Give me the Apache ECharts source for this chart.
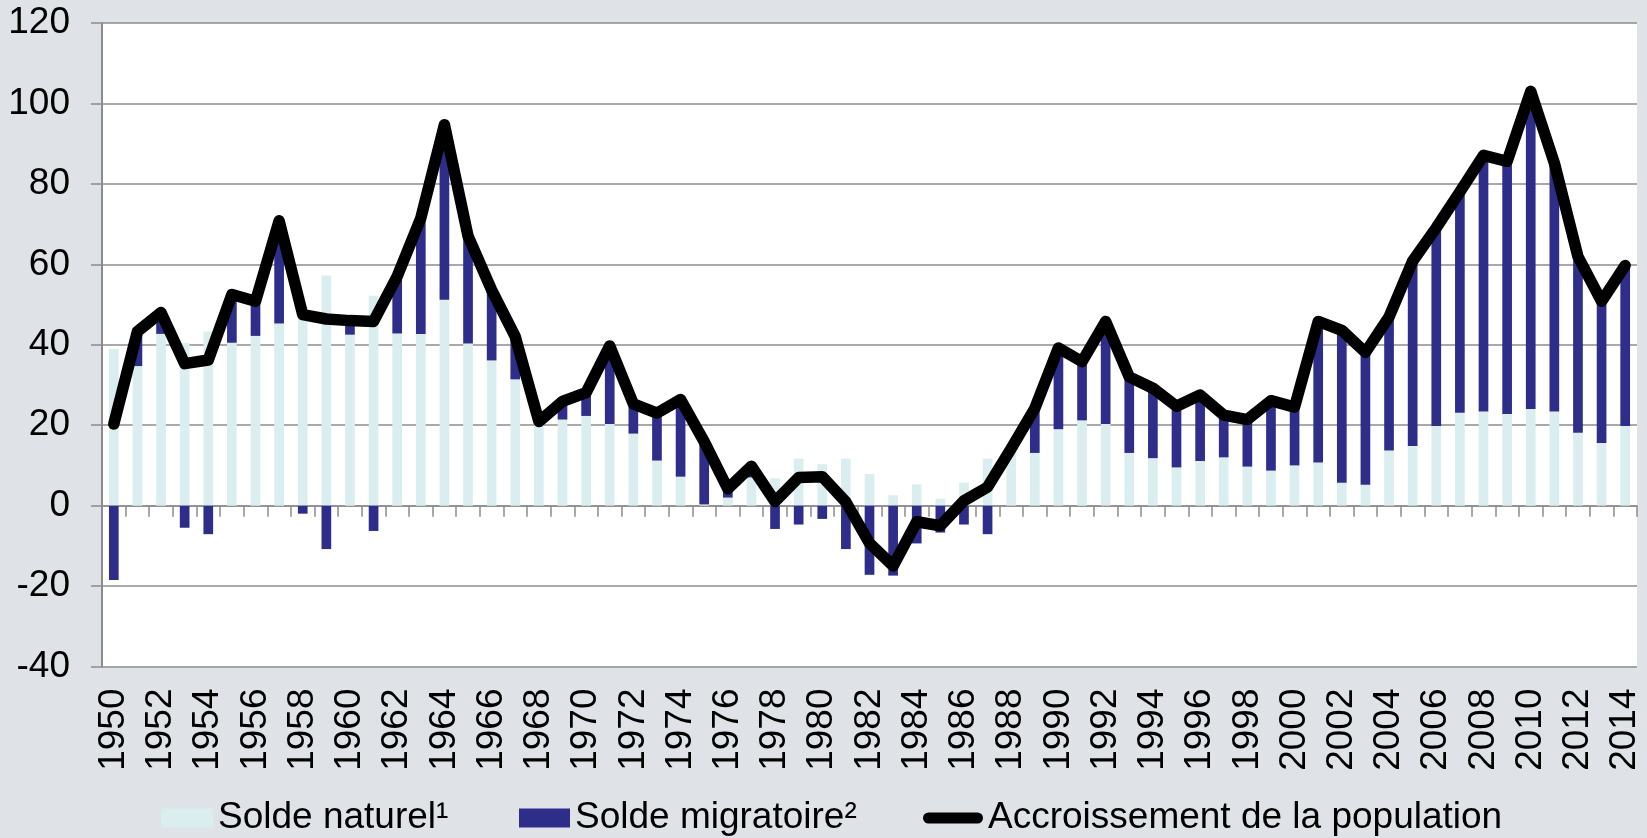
<!DOCTYPE html>
<html>
<head>
<meta charset="UTF-8">
<title>Accroissement de la population</title>
<script src="https://cdn.jsdelivr.net/npm/echarts@6/dist/echarts.min.js"></script>
<style>
  html, body { margin: 0; padding: 0; background: #dfe3e8; }
  #chart { width: 1647px; height: 838px; }
</style>
</head>
<body>
<div id="chart"></div>
<script>
// années 1950 - 2014
var years = [];
for (var y = 1950; y <= 2014; y++) years.push(String(y));

// solde naturel (milliers)
var naturel = [
  39.0, 34.7, 42.7, 40.5, 43.3, 40.5, 42.2, 45.3, 49.5, 57.2,
  42.5, 52.2, 42.8, 42.7, 51.2, 40.3, 36.1, 31.4, 20.3, 21.4,
  22.3, 20.3, 17.9, 11.2, 7.2, 0.3, 2.0, 7.0, 6.8, 11.7,
  10.3, 11.7, 7.9, 2.6, 5.3, 1.7, 5.7, 11.7, 13.7, 13.1,
  19.0, 21.2, 20.3, 13.1, 11.8, 9.5, 11.1, 12.0, 9.7, 8.7,
  10.0, 10.7, 5.7, 5.2, 13.7, 14.8, 19.8, 23.1, 23.4, 22.8,
  24.0, 23.4, 18.1, 15.6, 19.8
];

// solde migratoire
var migratoire = [
  -18.5, 8.6, 5.3, -5.5, -7.1, 12.0, 8.6, 25.5, -2.0, -10.8,
  3.5, -6.3, 14.2, 28.8, 43.5, 26.7, 17.5, 10.6, 0.6, 4.5,
  5.8, 19.4, 7.4, 11.8, 19.2, 15.6, 2.2, 2.8, -5.8, -4.7,
  -3.3, -10.8, -17.2, -17.4, -9.4, -6.7, -4.7, -7.1, 0.5, 11.1,
  20.2, 14.6, 25.5, 18.9, 17.4, 15.2, 16.4, 10.5, 11.7, 17.4,
  14.5, 35.1, 37.9, 32.9, 33.2, 46.0, 49.3, 54.9, 63.7, 62.8,
  79.0, 61.8, 43.8, 35.2, 39.9
];

// accroissement total
var accroissement = [
  20.3, 43.3, 48.0, 35.3, 36.2, 52.5, 50.8, 70.8, 47.5, 46.4,
  46.0, 45.8, 57.0, 71.5, 94.7, 67.0, 53.6, 42.0, 20.9, 25.9,
  28.1, 39.7, 25.3, 23.0, 26.4, 15.9, 4.2, 9.8, 1.0, 7.0,
  7.2, 0.9, -9.3, -15.0, -4.0, -5.0, 1.2, 4.6, 14.2, 24.2,
  39.2, 35.8, 45.8, 32.0, 29.2, 24.7, 27.5, 22.5, 21.4, 26.1,
  24.5, 45.8, 43.6, 38.1, 46.9, 60.8, 69.1, 78.0, 87.1, 85.6,
  103.0, 85.2, 61.9, 50.8, 59.7
];

var FONT = '"Liberation Sans", Arial, sans-serif';
var GRIS = '#8c8c8c';

var chart = echarts.init(document.getElementById('chart'));

var legendText = { color: '#000', fontSize: 37, fontFamily: FONT, lineHeight: 38 };

var option = {
  backgroundColor: '#dfe3e8',
  animation: false,
  grid: {
    left: 102, right: 10, top: 23, bottom: 171.5,
    show: true, backgroundColor: '#ffffff', borderWidth: 0
  },
  legend: [
    {
      data: ['Solde naturel¹'], left: 161, top: 799, padding: 0,
      icon: 'rect', itemWidth: 52, itemHeight: 19,
      itemStyle: { borderWidth: 0 }, textStyle: legendText
    },
    {
      data: ['Solde migratoire²'], left: 519, top: 799, padding: 0,
      icon: 'rect', itemWidth: 51, itemHeight: 19,
      itemStyle: { borderWidth: 0 }, textStyle: legendText
    },
    {
      data: ['Accroissement de la population'], left: 923, top: 799, padding: 0,
      icon: 'path://M5.5,0 L54.5,0 A5.5,5.5 0 0 1 54.5,11 L5.5,11 A5.5,5.5 0 0 1 5.5,0 Z',
      itemWidth: 60, itemHeight: 11,
      itemStyle: { borderWidth: 0 }, textStyle: legendText
    }
  ],
  xAxis: [
    {
      // axe au zéro : traits de graduation seulement
      type: 'category',
      data: years,
      position: 'bottom',
      axisLine: { onZero: true, lineStyle: { color: GRIS, width: 1.5 } },
      axisTick: { show: true, interval: 0, length: 11, lineStyle: { color: GRIS, width: 1.5 } },
      axisLabel: { show: false },
      splitLine: { show: false }
    },
    {
      // axe du bas : étiquettes des années
      type: 'category',
      data: years,
      position: 'bottom',
      axisLine: { show: false, onZero: false },
      axisTick: { show: false },
      axisLabel: {
        interval: 1, rotate: 90, margin: 22,
        color: '#000', fontSize: 37, fontFamily: FONT
      },
      splitLine: { show: false }
    }
  ],
  yAxis: {
    type: 'value',
    min: -40, max: 120, interval: 20,
    axisLine: { show: true, lineStyle: { color: GRIS, width: 2 } },
    axisTick: { show: true, length: 11, lineStyle: { color: GRIS, width: 1.5 } },
    axisLabel: { margin: 32, color: '#000', fontSize: 37, fontFamily: FONT },
    splitLine: { show: true, lineStyle: { color: GRIS, width: 1.5 } }
  },
  series: [
    {
      name: 'Solde naturel¹',
      type: 'bar',
      stack: 'total',
      barWidth: '41%',
      itemStyle: { color: '#daeeef' },
      data: naturel
    },
    {
      name: 'Solde migratoire²',
      type: 'bar',
      stack: 'total',
      barWidth: '41%',
      itemStyle: { color: '#2e2e8a' },
      data: migratoire
    },
    {
      name: 'Accroissement de la population',
      type: 'line',
      symbol: 'none',
      itemStyle: { color: '#000' },
      lineStyle: { color: '#000', width: 11.5, join: 'round', cap: 'round' },
      data: accroissement
    }
  ]
};

chart.setOption(option);
</script>
</body>
</html>
